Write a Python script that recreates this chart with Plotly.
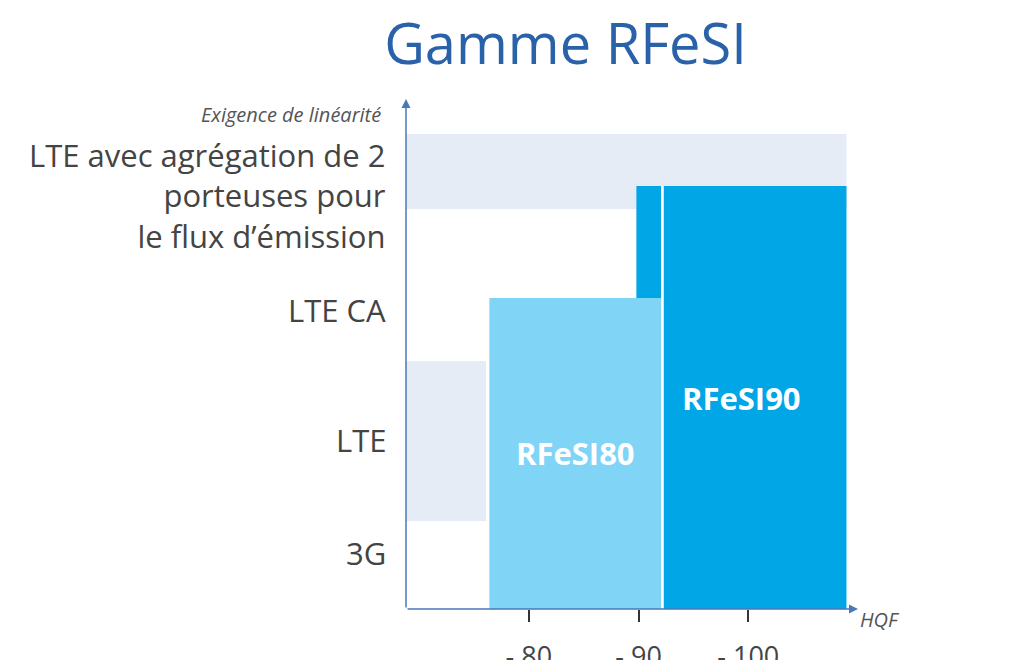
import plotly.graph_objects as go

# data
tick_vals = [80, 90, 100]
tick_text = ["- 80", "- 90", "- 100"]
cat_labels = ["3G", "LTE", "LTE CA", "LTE avec agrégation de 2<br>porteuses pour<br>le flux d’émission"]
cat_pos = [56, 169, 299, 414]
band_x0 = [68.5, 68.8]
band_x1 = [108.95, 76.1]
band_y0 = [400, 88]
band_y1 = [475, 248]
prod_names = ["RFeSI90", "RFeSI80"]
prod_x0 = [89.8, 76.4]
prod_x1 = [108.95, 92.05]
prod_top = [423, 311]
prod_colors = ["#00a6e6", "#80d4f6"]
prod_label_y = [211, 156]

fig = go.Figure()
for x0, x1, y0, y1 in zip(band_x0, band_x1, band_y0, band_y1):
    fig.add_trace(go.Bar(x=[(x0 + x1) / 2], width=[x1 - x0], y=[y1 - y0], base=[y0],
                         marker=dict(color="#e6ecf5", line=dict(width=0)), hoverinfo="skip"))
for n, x0, x1, t, c in zip(prod_names, prod_x0, prod_x1, prod_top, prod_colors):
    fig.add_trace(go.Bar(x=[(x0 + x1) / 2], width=[x1 - x0], y=[t], base=[0],
                         marker=dict(color=c, line=dict(width=0)), hoverinfo="skip"))
    if n == "RFeSI80":
        fig.add_trace(go.Bar(x=[x1 + 0.12], width=[0.25], y=[prod_top[0]], base=[0],
                             marker=dict(color="white", line=dict(width=0)), hoverinfo="skip"))
for n, x0, x1, ly in zip(prod_names, prod_x0, prod_x1, prod_label_y):
    fig.add_annotation(x=(x0 + x1) / 2, y=ly, text="<b>%s</b>" % n, showarrow=False,
                       font=dict(color="white", size=31, family="Open Sans"))
for lab, p in zip(cat_labels, cat_pos):
    fig.add_annotation(xref="paper", x=-0.04, y=p, text=lab, showarrow=False, xanchor="right",
                       align="right", font=dict(color="#444", size=31, family="Open Sans"))
# axes arrows
fig.add_annotation(x=110, y=0, ax=68.8, ay=0, axref="x", ayref="y", xref="x", yref="y", text="",
                   showarrow=True, arrowhead=2, arrowsize=1.2, arrowwidth=1.5, arrowcolor="#4a78b8")
fig.add_annotation(x=68.8, y=510, ax=68.8, ay=0, axref="x", ayref="y", xref="x", yref="y", text="",
                   showarrow=True, arrowhead=2, arrowsize=1.2, arrowwidth=1.5, arrowcolor="#4a78b8")
fig.add_annotation(xref="paper", x=-0.05, yref="paper", y=1.0, text="<i>Exigence de linéarité</i>",
                   showarrow=False, xanchor="right", font=dict(color="#555", size=20, family="Open Sans"))
fig.add_annotation(xref="paper", x=1.0, yref="paper", y=-0.05, text="<i>HQF</i>", showarrow=False,
                   xanchor="left", font=dict(color="#555", size=20, family="Open Sans"))

fig.update_layout(
    width=1023, height=660, barmode="overlay", showlegend=False,
    plot_bgcolor="white", paper_bgcolor="white",
    margin=dict(l=398, r=173, t=91, b=59, autoexpand=False),
    title=dict(text="Gamme RFeSI", x=0.545, xanchor="center", y=0.945, yanchor="middle",
               font=dict(size=56, color="#2a62a9", family="Open Sans")),
    xaxis=dict(range=[68.8, 110], tickvals=tick_vals, ticktext=tick_text, ticks="outside",
               ticklen=12, tickcolor="#333", tickwidth=1.5, showgrid=False, zeroline=False,
               showline=False, ticklabelstandoff=12, automargin=False,
               tickfont=dict(size=27, color="#444", family="Open Sans")),
    yaxis=dict(range=[0, 510], showticklabels=False, showgrid=False, zeroline=False, showline=False,
               automargin=False),
)
fig.write_html("out.html")
